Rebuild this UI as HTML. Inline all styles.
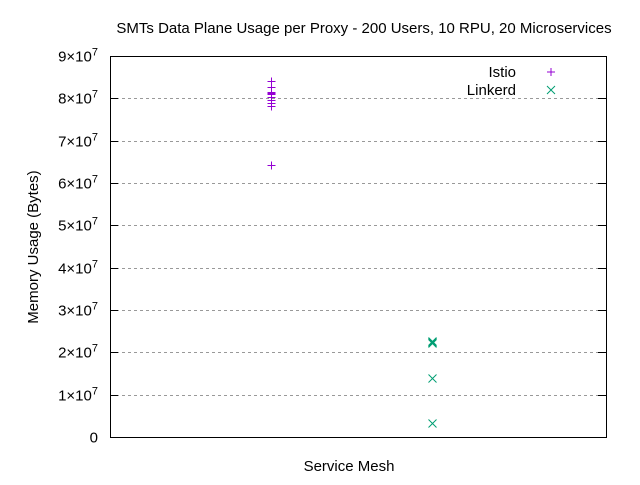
<!DOCTYPE html>
<html><head><meta charset="utf-8"><style>
body{margin:0;background:#fff;}
svg{font-family:"Liberation Sans",sans-serif;}
</style></head><body>
<svg width="640" height="480">
<text x="364" y="33" font-size="15" text-anchor="middle">SMTs Data Plane Usage per Proxy - 200 Users, 10 RPU, 20 Microservices</text>
<g id="grid"></g>
<g id="ticks"></g>
<rect x="110.5" y="56.5" width="496" height="381" fill="none" stroke="#000"/>
<text x="38" y="247" font-size="15" text-anchor="middle" transform="rotate(-90 38 247)">Memory Usage (Bytes)</text>
<text x="349" y="471" font-size="15" text-anchor="middle">Service Mesh</text>
<g><text x="516" y="77" font-size="15" text-anchor="end">Istio</text>
<path d="M547,72h8M551,68v8" stroke="#9400d3"/></g>
<g><text x="516" y="95" font-size="15" text-anchor="end">Linkerd</text>
<path d="M547,86l8,8M555,86l-8,8" stroke="#009e73"/></g>
<g id="marks"></g>
</svg>
<script>
const yTicks=[0,1,2,3,4,5,6,7,8,9];
const categories=["Istio","Linkerd"];
const istioValues=[8.41e7,8.27e7,8.16e7,8.14e7,8.12e7,8.10e7,8.03e7,7.96e7,7.89e7,7.82e7,6.43e7];
const linkerdValues=[2.26e7,2.25e7,2.24e7,2.23e7,1.39e7,0.33e7];
const ns="http://www.w3.org/2000/svg";
const X0=110,X1=606,Y0=437,Y1=56;
function y(v){return Y0-(v/9e7)*(Y0-Y1);}
function x(i){return X0+(0.325+i*0.3245)*(X1-X0);}
const grid=document.getElementById('grid'),ticks=document.getElementById('ticks'),marks=document.getElementById('marks');
function mk(tag,a,p){const e=document.createElementNS(ns,tag);for(const k in a)e.setAttribute(k,a[k]);p.appendChild(e);return e;}
yTicks.forEach(t=>{const yy=Math.round(y(t*1e7))+0.5;
 if(t>0){const g=mk('line',{x1:X0,x2:X1,y1:yy,y2:yy,stroke:'#999','stroke-dasharray':'3,3'},grid);
 
 }
 const tl=mk('line',{x1:X0,x2:X0+8,y1:yy,y2:yy,stroke:'#000'},ticks);
 
 
 const tr=mk('line',{x1:X1-8,x2:X1,y1:yy,y2:yy,stroke:'#000'},ticks);
 
 
 const tx=mk('text',{x:98,y:yy+5,'font-size':15,'text-anchor':'end'},ticks);
 
 
 if(t===0){tx.textContent='0';}else{tx.textContent=t+'×10';const s=mk('tspan',{dy:-6,'font-size':11},tx);s.textContent='7';}
});
istioValues.forEach(v=>{const cx=Math.round(x(0))+0.5,cy=Math.round(y(v))+0.5;
 const p=mk('path',{d:`M${cx-4},${cy}h8M${cx},${cy-4}v8`,stroke:'#9400d3'},marks);
 
 });
linkerdValues.forEach(v=>{const cx=Math.round(x(1))+0.5,cy=Math.round(y(v))+0.5;
 const p=mk('path',{d:`M${cx-4},${cy-4}l8,8M${cx+4},${cy-4}l-8,8`,stroke:'#009e73'},marks);
 
 });
</script>
</body></html>
